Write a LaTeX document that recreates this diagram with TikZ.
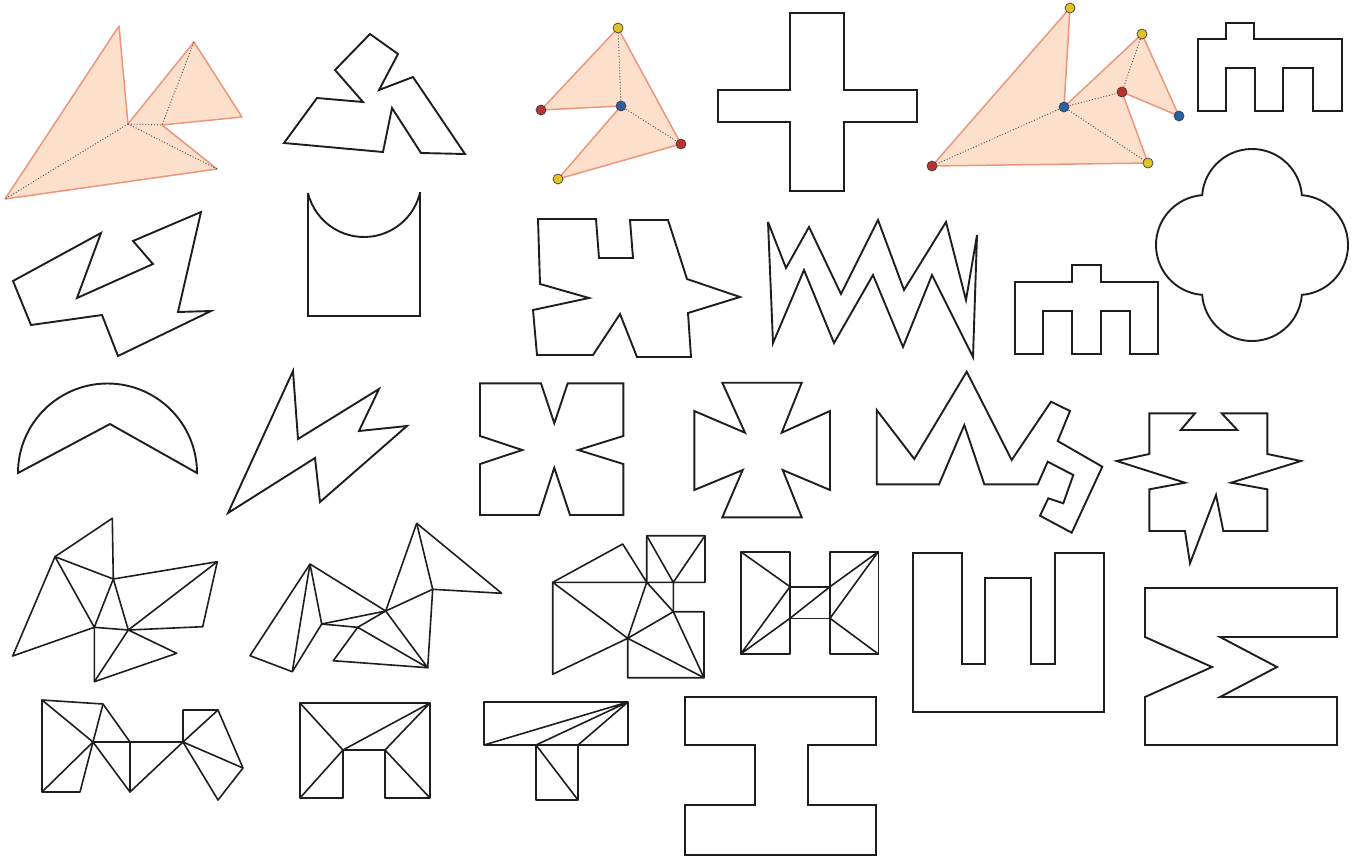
\documentclass[tikz,border=0pt]{standalone}
\definecolor{peachfill}{RGB}{252,224,204}
\definecolor{peachline}{RGB}{236,150,125}
\definecolor{dotyellow}{RGB}{225,195,35}
\definecolor{dotred}{RGB}{185,50,50}
\definecolor{dotblue}{RGB}{40,95,165}
\definecolor{ink}{RGB}{30,30,30}
\begin{document}
\begin{tikzpicture}[x=1pt,y=-1pt,
  poly/.style={draw=ink, line width=1.9pt, miter limit=6},
  tri/.style={draw=ink, line width=1.6pt, line join=round},
  peach/.style={fill=peachfill, draw=peachline, line width=1.5pt, line join=round},
  dots/.style={draw=black!75, dotted, line width=0.9pt},
  vdot/.style={circle, draw=black!75, line width=0.7pt, inner sep=0pt, minimum size=10pt},
  ydot/.style={vdot, fill=dotyellow},
  rdot/.style={vdot, fill=dotred},
  bdot/.style={vdot, fill=dotblue}]
\useasboundingbox (0,0) rectangle (1354,865);

% ---- shape 1 (peach, top-left)
\path[peach] (5,199) -- (119,26) -- (128,124) -- (194,42) -- (242,117) -- (162,125) -- (217,169) -- cycle;
\draw[dots] (128,124) -- (5,199) (128,124) -- (217,169) (128,124) -- (162,125) -- (194,42);

% ---- shape 2
\draw[poly] (284,143) -- (317,98) -- (363,102) -- (335,70) -- (370,34) -- (398,54) -- (379,90) -- (413,77) -- (465,154) -- (421,153) -- (392,108) -- (383,152) -- cycle;

% ---- shape 3 (peach with dots)
\coordinate (s3t) at (618,28);
\coordinate (s3l) at (541,110);
\coordinate (s3c) at (621,106);
\coordinate (s3r) at (681,144);
\coordinate (s3b) at (558,179);
\path[peach] (s3t) -- (s3l) -- (s3c) -- (s3b) -- (s3r) -- cycle;
\draw[dots] (s3c) -- (s3t) (s3c) -- (s3r);
\node[ydot] (n3t) at (s3t) {};
\node[rdot] (n3l) at (s3l) {};
\node[bdot] (n3c) at (s3c) {};
\node[rdot] (n3r) at (s3r) {};
\node[ydot] (n3b) at (s3b) {};

% ---- shape 4 (cross)
\draw[poly] (790,13) -- (844,13) -- (844,90) -- (917,90) -- (917,122) -- (844,122) -- (844,191) -- (790,191) -- (790,122) -- (718,122) -- (718,90) -- (790,90) -- cycle;

% ---- shape 5 (peach with dots)
\coordinate (s5l) at (932,166);
\coordinate (s5t) at (1070,8);
\coordinate (s5c) at (1064,107);
\coordinate (s5tr) at (1142,34);
\coordinate (s5br) at (1179,116);
\coordinate (s5m) at (1122,92);
\coordinate (s5b) at (1148,163);
\path[peach] (s5l) -- (s5t) -- (s5c) -- (s5tr) -- (s5br) -- (s5m) -- (s5b) -- cycle;
\draw[dots] (s5c) -- (s5l) (s5c) -- (s5m) (s5c) -- (s5b) (s5m) -- (s5tr);
\node[rdot] (n5l) at (s5l) {};
\node[ydot] (n5t) at (s5t) {};
\node[bdot] (n5c) at (s5c) {};
\node[ydot] (n5tr) at (s5tr) {};
\node[bdot] (n5br) at (s5br) {};
\node[rdot] (n5m) at (s5m) {};
\node[ydot] (n5b) at (s5b) {};

% ---- shape 6 (m, top-right)
\draw[poly] (1198,111) -- (1198,39) -- (1226,39) -- (1226,23) -- (1254,23) -- (1254,39) -- (1342,39) -- (1342,111) -- (1313,111) -- (1313,68) -- (1283,68) -- (1283,111) -- (1255,111) -- (1255,68) -- (1226,68) -- (1226,111) -- cycle;

% ---- shape 7
\draw[poly] (13,281) -- (101,233) -- (77,298) -- (153,264) -- (133,241) -- (201,212) -- (178,312) -- (211,311) -- (118,356) -- (102,315) -- (31,325) -- cycle;

% ---- shape 8 (U with arc)
\draw[poly] (420,193) -- (420,316) -- (308,316) -- (308,193) arc[start angle=166.35, end angle=13.65, radius=57.6] -- cycle;

% ---- shape 9
\draw[poly] (538,219) -- (596,219) -- (599,258) -- (633,258) -- (630,220) -- (668,220) -- (687,279) -- (740,297) -- (688,313) -- (691,357) -- (637,357) -- (620,314) -- (593,355) -- (537,355) -- (533,310) -- (589,298) -- (540,284) -- cycle;

% ---- shape 10 (double zigzag)
\draw[poly] (768,222) -- (786,268) -- (809,227) -- (841,294) -- (878,220) -- (904,290) -- (946,222) -- (966,300) -- (977,235) -- (973,357) -- (932,275) -- (903,347) -- (873,275) -- (834,343) -- (804,270) -- (773,343) -- cycle;

% ---- shape 11 (small m)
\draw[poly] (1015,354) -- (1015,282) -- (1072,282) -- (1072,265) -- (1101,265) -- (1101,282) -- (1158,282) -- (1158,354) -- (1130,354) -- (1130,311) -- (1101,311) -- (1101,354) -- (1072,354) -- (1072,311) -- (1043,311) -- (1043,354) -- cycle;

% ---- shape 12 (cloud)
\draw[poly] (1202.15,195.15) arc[start angle=184.4, end angle=355.6, radius=50]
  arc[start angle=274.4, end angle=445.6, radius=50]
  arc[start angle=4.4, end angle=175.6, radius=50]
  arc[start angle=94.4, end angle=265.6, radius=50] -- cycle;

% ---- shape 13 (crescent)
\draw[poly] (18,473) arc[start angle=180, end angle=360, radius=89.5] -- (110,424) -- cycle;

% ---- shape 14 (lightning)
\draw[poly] (293,371) -- (298,439) -- (379,389) -- (359,431) -- (407,426) -- (320,502) -- (315,458) -- (228,513) -- cycle;

% ---- shape 15
\draw[poly] (480,383.3) -- (541,383.3) -- (554.3,423.3) -- (567.7,383.3) -- (623.3,383.3) -- (623.3,436) -- (578.3,450) -- (623.3,464) -- (623.3,515) -- (570,515) -- (554.3,467.7) -- (539,515) -- (480,515) -- (480,464) -- (522.3,450) -- (480,436) -- cycle;

% ---- shape 16 (maltese)
\draw[poly] (722.3,382.7) -- (801.7,382.7) -- (781.7,432.7) -- (830,411) -- (830,490) -- (782.7,470) -- (801.7,517.3) -- (722.3,517.3) -- (742.7,470) -- (694.3,490) -- (694.3,411) -- (745,432.7) -- cycle;

% ---- shape 17
\draw[poly] (876.7,410) -- (914.3,459) -- (966.7,371.7) -- (1011.7,460) -- (1051,401.7) -- (1070,411) -- (1057.7,441) -- (1102.3,466.7) -- (1071.7,532.7) -- (1040,515.7) -- (1048.3,498.3) -- (1063.3,503.3) -- (1073.3,475) -- (1047.7,461.7) -- (1037.7,484.3) -- (984.3,484.3) -- (964.3,425) -- (939,484.3) -- (876.7,484.3) -- cycle;

% ---- shape 18
\draw[poly] (1149.3,413.3) -- (1195,413.3) -- (1180.7,430) -- (1237.3,430) -- (1221.7,413.3) -- (1267.3,413.3) -- (1267.3,454) -- (1301,461) -- (1231,482.7) -- (1267.3,489.3) -- (1267.3,531) -- (1223.3,531) -- (1216,495) -- (1190,563.3) -- (1185,531) -- (1149.3,531) -- (1149.3,489.3) -- (1185,482.7) -- (1116.7,461) -- (1149.3,454) -- cycle;

% ---- shape 19 (triangulated)
\coordinate (a19) at (112.3,518.3);
\coordinate (b19) at (55,556.7);
\coordinate (c19) at (113.3,579);
\coordinate (d19) at (217.3,561.7);
\coordinate (e19) at (202.7,626.7);
\coordinate (f19) at (128.3,630);
\coordinate (g19) at (94.3,627.3);
\coordinate (h19) at (12.7,656);
\coordinate (i19) at (176.7,653.3);
\coordinate (j19) at (94.3,681.7);
\draw[tri] (b19) -- (a19) -- (c19) -- (d19) -- (e19) -- (f19) -- (i19) -- (j19) -- (g19) -- (h19) -- cycle;
\draw[tri] (b19) -- (c19) (b19) -- (g19) -- (c19) -- (f19) -- (g19) (f19) -- (d19) (f19) -- (j19);

% ---- shape 20 (triangulated)
\coordinate (p20) at (416.7,523.3);
\coordinate (q20) at (501.7,593.3);
\coordinate (r20) at (432.7,589.3);
\coordinate (s20) at (385.7,611);
\coordinate (t20) at (310,564);
\coordinate (u20) at (321.7,624);
\coordinate (v20) at (250,655.7);
\coordinate (w20) at (292.3,671.7);
\coordinate (x20) at (357.7,627.3);
\coordinate (y20) at (333.3,660.7);
\coordinate (z20) at (427.7,667.7);
\draw[tri] (v20) -- (t20) -- (s20) -- (p20) -- (q20) -- (r20) -- (z20) -- (y20) -- (x20) -- (u20) -- (w20) -- cycle;
\draw[tri] (t20) -- (w20) (t20) -- (u20) -- (s20) -- (x20) -- (z20) -- (s20) -- (r20) -- (p20);

% ---- shape 21 (triangulated)
\coordinate (a21) at (646.7,535.7);
\coordinate (b21) at (705,535.7);
\coordinate (c21) at (705,582.3);
\coordinate (d21) at (673.3,582.3);
\coordinate (e21) at (646.7,582.3);
\coordinate (f21) at (622.7,544);
\coordinate (g21) at (552.7,582.3);
\coordinate (h21) at (673.3,611.7);
\coordinate (i21) at (704,611.7);
\coordinate (j21) at (704,677.7);
\coordinate (k21) at (627.7,677.7);
\coordinate (l21) at (627.7,638.3);
\coordinate (m21) at (552.7,674.3);
\draw[tri] (g21) -- (f21) -- (e21) -- (a21) -- (b21) -- (c21) -- (d21) -- (h21) -- (i21) -- (j21) -- (k21) -- (l21) -- (m21) -- cycle;
\draw[tri] (g21) -- (d21) (g21) -- (l21) -- (e21) -- (h21) -- (l21) -- (j21) -- (h21) (a21) -- (d21) -- (b21);

% ---- shape 22 (H triangulated)
\coordinate (a22) at (740.7,551.7);
\coordinate (b22) at (790,551.7);
\coordinate (c22) at (790,586.7);
\coordinate (d22) at (830,586.7);
\coordinate (e22) at (830,551.7);
\coordinate (f22) at (878.3,551.7);
\coordinate (g22) at (878.3,654);
\coordinate (h22) at (830,654);
\coordinate (i22) at (830,618.3);
\coordinate (j22) at (790,618.3);
\coordinate (k22) at (790,654);
\coordinate (l22) at (740.7,654);
\draw[tri] (a22) -- (b22) -- (c22) -- (d22) -- (e22) -- (f22) -- (g22) -- (h22) -- (i22) -- (j22) -- (k22) -- (l22) -- cycle;
\draw[tri] (a22) -- (c22) -- (l22) -- (j22) -- (d22) -- (f22) -- (i22) -- (g22) (c22) -- (j22) (d22) -- (i22);

% ---- shape 23 (Sh)
\draw[poly] (913,553) -- (962,553) -- (962,664) -- (985,664) -- (985,578) -- (1031,578) -- (1031,664) -- (1055,664) -- (1055,553) -- (1104,553) -- (1104,712) -- (913,712) -- cycle;

% ---- shape 24 (Sigma)
\draw[poly] (1145,588) -- (1337,588) -- (1337,637) -- (1220,637) -- (1277,667) -- (1220,697) -- (1337,697) -- (1337,745) -- (1145,745) -- (1145,697) -- (1212,667) -- (1145,637) -- cycle;

% ---- shape 25 (triangulated, bottom-left)
\coordinate (a25) at (42,700);
\coordinate (b25) at (103,704);
\coordinate (c25) at (93,742);
\coordinate (d25) at (130,742);
\coordinate (e25) at (183,742);
\coordinate (f25) at (183,710);
\coordinate (g25) at (218,710);
\coordinate (h25) at (243,768);
\coordinate (i25) at (218,800);
\coordinate (k25) at (130,792);
\coordinate (m25) at (80,792);
\coordinate (n25) at (42,792);
\draw[tri] (a25) -- (b25) -- (c25) -- (e25) -- (f25) -- (g25) -- (h25) -- (i25) -- (e25) -- (k25) -- (c25) -- (m25) -- (n25) -- cycle;
\draw[tri] (a25) -- (c25) -- (n25) (b25) -- (d25) -- (k25) (f25) -- (e25) (g25) -- (e25) -- (h25);

% ---- shape 26
\coordinate (a26) at (300,703);
\coordinate (b26) at (430,703);
\coordinate (c26) at (430,798);
\coordinate (d26) at (385,798);
\coordinate (e26) at (385,750);
\coordinate (f26) at (343,750);
\coordinate (g26) at (343,798);
\coordinate (h26) at (300,798);
\draw[tri] (a26) -- (b26) -- (c26) -- (d26) -- (e26) -- (f26) -- (g26) -- (h26) -- cycle;
\draw[tri] (a26) -- (f26) -- (b26) -- (e26) -- (c26) (f26) -- (h26);

% ---- shape 27 (T)
\coordinate (a27) at (484,702);
\coordinate (b27) at (628,702);
\coordinate (c27) at (628,745);
\coordinate (d27) at (578,745);
\coordinate (e27) at (578,800);
\coordinate (f27) at (536,800);
\coordinate (g27) at (536,745);
\coordinate (h27) at (484,745);
\draw[tri] (a27) -- (b27) -- (c27) -- (d27) -- (e27) -- (f27) -- (g27) -- (h27) -- cycle;
\draw[tri] (b27) -- (h27) (b27) -- (g27) -- (e27) (b27) -- (d27) -- (g27);

% ---- shape 28 (I)
\draw[poly] (685,697) -- (876,697) -- (876,745) -- (808,745) -- (808,805) -- (876,805) -- (876,855) -- (685,855) -- (685,805) -- (755,805) -- (755,745) -- (685,745) -- cycle;
\end{tikzpicture}
\end{document}
